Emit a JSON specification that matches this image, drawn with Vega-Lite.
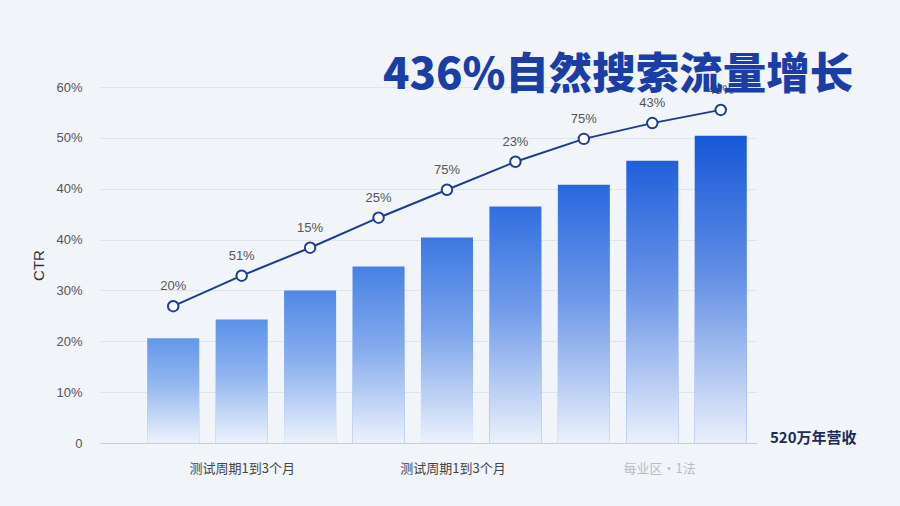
{
  "$schema": "https://vega.github.io/schema/vega-lite/v6.json",
  "width": 657,
  "height": 356,
  "autosize": {"type": "none"},
  "padding": {"left": 100, "top": 87, "right": 143, "bottom": 63},
  "background": "#f1f4f9",
  "title": {
    "text": "436%自然搜索流量增长",
    "anchor": "start",
    "frame": "group",
    "dx": 283,
    "dy": 45,
    "fontSize": 43.5,
    "fontWeight": 900,
    "font": "Noto Sans CJK SC",
    "color": "#1b3da6",
    "baseline": "alphabetic",
    "offset": -6
  },
  "config": {
    "view": {"stroke": null},
    "font": "Liberation Sans"
  },
  "datasets": {
    "main": [
      {"i": 1, "bar": 20.6, "line": 26.9, "lab": "20%"},
      {"i": 2, "bar": 24.3, "line": 32.9, "lab": "51%"},
      {"i": 3, "bar": 30.0, "line": 38.4, "lab": "15%"},
      {"i": 4, "bar": 34.7, "line": 44.3, "lab": "25%"},
      {"i": 5, "bar": 40.4, "line": 49.8, "lab": "75%"},
      {"i": 6, "bar": 46.5, "line": 55.3, "lab": "23%"},
      {"i": 7, "bar": 50.8, "line": 59.8, "lab": "75%"},
      {"i": 8, "bar": 55.5, "line": 62.9, "lab": "43%"},
      {"i": 9, "bar": 60.4, "line": 65.5, "lab": "48%"}
    ],
    "note": [
      {"i": 9.53, "v": 0, "t": "520万年营收"}
    ]
  },
  "data": {"name": "main"},
  "layer": [
    {
      "mark": {"type": "bar", "size": 52},
      "encoding": {
        "x": {
          "field": "i", "type": "quantitative", "title": null,
          "scale": {"domain": [-0.07, 9.53], "nice": false, "zero": false, "padding": 0},
          "axis": {
            "title": null,
            "values": [2, 5.08, 8.1],
            "labelExpr": "datum.value > 6 ? '每业区·1法' : '测试周期1到3个月'",
            "labelFont": "Noto Sans CJK SC",
            "labelFontSize": 13,
            "labelColor": {"condition": {"test": "datum.value > 6", "value": "#b8bcc3"}, "value": "#444444"},
            "labelPadding": 19,
            "ticks": false,
            "grid": false,
            "domain": true,
            "domainColor": "#c9cdd4",
            "labelFlush": false
          }
        },
        "y": {
          "field": "bar", "type": "quantitative", "title": "CTR",
          "scale": {"domain": [0, 70], "nice": false},
          "axis": {
            "title": "CTR",
            "titleFont": "Liberation Sans",
            "titleFontSize": 15,
            "titleFontWeight": "normal",
            "titleColor": "#333333",
            "titlePadding": 9,
            "values": [0, 10, 20, 30, 40, 50, 60, 70],
            "labelExpr": "['0','10%','20%','30%','40%','40%','50%','60%'][round(datum.value/10)]",
            "labelFontSize": 13,
            "labelColor": "#555555",
            "labelPadding": 18,
            "ticks": false,
            "domain": false,
            "grid": true,
            "gridColor": "#dfe3ea",
            "gridWidth": 1
          }
        },
        "color": {
          "field": "bar", "type": "quantitative",
          "scale": {"domain": [20, 61], "range": ["#6398e9", "#1456d8"]},
          "legend": null
        }
      }
    },
    {
      "mark": {
        "type": "bar", "size": 52,
        "color": {
          "gradient": "linear", "x1": 0, "y1": 0, "x2": 0, "y2": 1,
          "stops": [
            {"offset": 0, "color": "rgba(241,245,252,0)"},
            {"offset": 0.45, "color": "rgba(241,245,252,0.35)"},
            {"offset": 1, "color": "rgba(241,245,252,0.97)"}
          ]
        }
      },
      "encoding": {
        "x": {"field": "i", "type": "quantitative", "title": null},
        "y": {"field": "bar", "type": "quantitative", "title": "CTR"}
      }
    },
    {
      "mark": {"type": "line", "color": "#1c3d94", "strokeWidth": 2},
      "encoding": {
        "x": {"field": "i", "type": "quantitative", "title": null},
        "y": {"field": "line", "type": "quantitative", "title": "CTR"}
      }
    },
    {
      "mark": {"type": "point", "filled": true, "fill": "#ffffff", "stroke": "#1c3d94", "strokeWidth": 2, "size": 110, "opacity": 1},
      "encoding": {
        "x": {"field": "i", "type": "quantitative", "title": null},
        "y": {"field": "line", "type": "quantitative", "title": "CTR"}
      }
    },
    {
      "mark": {"type": "text", "dy": -20, "fontSize": 13, "color": "#555555", "baseline": "middle"},
      "encoding": {
        "x": {"field": "i", "type": "quantitative", "title": null},
        "y": {"field": "line", "type": "quantitative", "title": "CTR"},
        "text": {"field": "lab"}
      }
    },
    {
      "data": {"name": "note"},
      "mark": {"type": "text", "align": "left", "baseline": "middle", "dx": 13, "dy": -5, "fontSize": 15, "fontWeight": "bold", "font": "Noto Sans CJK SC", "color": "#1d2b55", "clip": false},
      "encoding": {
        "x": {"field": "i", "type": "quantitative", "title": null},
        "y": {"field": "v", "type": "quantitative", "title": "CTR"},
        "text": {"field": "t"}
      }
    }
  ]
}
